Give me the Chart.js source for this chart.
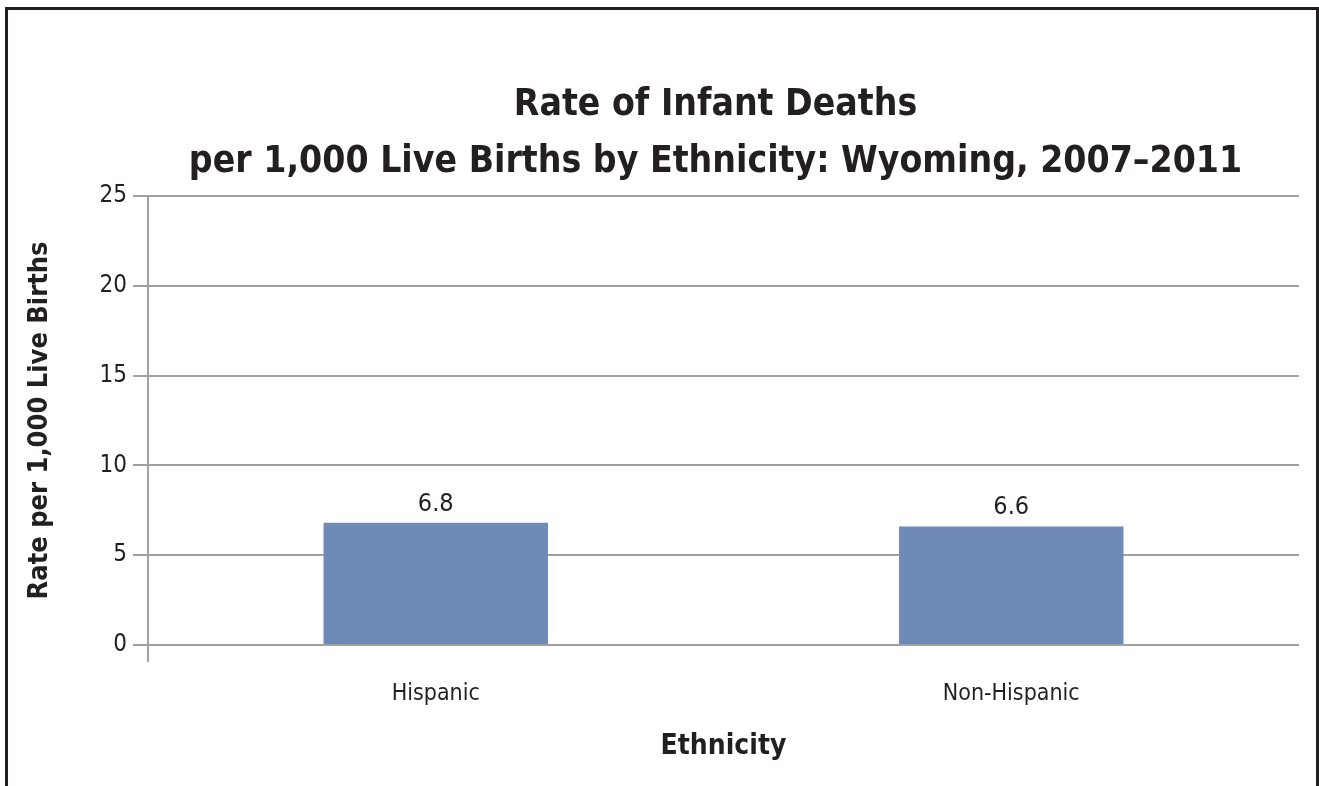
<!DOCTYPE html>
<html>
<head>
<meta charset="utf-8">
<script src="https://cdn.jsdelivr.net/npm/chart.js@4/dist/chart.umd.min.js"></script>
<style>
  html, body { margin: 0; padding: 0; background: #fff; }
  #wrap { width: 1319px; height: 786px; position: relative; }
</style>
</head>
<body>
<div id="wrap"><canvas id="c" width="1319" height="786"></canvas></div>
<script>
const titleLines = ['Rate of Infant Deaths', 'per 1,000 Live Births by Ethnicity: Wyoming, 2007\u20132011'];
const categories = ['Hispanic', 'Non-Hispanic'];
const rates = [6.8, 6.6];
const rateLabels = ['6.8', '6.6'];
const yTicks = [0, 5, 10, 15, 20, 25];
const yAxisTitle = 'Rate per 1,000 Live Births';
const xAxisTitle = 'Ethnicity';

const FONT = "'DejaVu Sans Condensed', 'Liberation Sans Narrow', sans-serif";
const TEXT = '#231f20';
const GRID = '#a0a0a0';
const BAR = '#6f8ab7';

const framePlugin = {
  id: 'frame',
  afterLayout(chart) {
    // centre the title block a little right of the canvas centre, as in the source
    if (chart.titleBlock) {
      chart.titleBlock.left += 62;
      chart.titleBlock.right += 62;
    }
  },
  beforeDraw(chart) {
    const c = chart.ctx;
    c.save();
    c.fillStyle = '#ffffff';
    c.fillRect(0, 0, chart.width, chart.height);
    c.fillStyle = TEXT;
    c.fillRect(5, 7, 3, chart.height);
    c.fillRect(5, 7, chart.width - 5, 3);
    c.fillRect(chart.width - 3, 7, 3, chart.height);
    c.restore();
  }
};

const valueLabelPlugin = {
  id: 'valueLabels',
  afterDatasetsDraw(chart) {
    const c = chart.ctx;
    const meta = chart.getDatasetMeta(0);
    c.save();
    c.font = '25px ' + FONT;
    c.fillStyle = TEXT;
    c.textAlign = 'center';
    c.textBaseline = 'alphabetic';
    meta.data.forEach((bar, i) => {
      c.fillText(rateLabels[i], bar.x, bar.y - 12);
    });
    c.restore();
  }
};

new Chart(document.getElementById('c'), {
  type: 'bar',
  data: {
    labels: categories,
    datasets: [{
      data: rates,
      backgroundColor: BAR,
      borderWidth: 0,
      barPercentage: 0.39,
      categoryPercentage: 1.0
    }]
  },
  options: {
    responsive: false,
    animation: false,
    devicePixelRatio: 1,
    layout: { padding: { left: 8, right: 20, top: 0, bottom: 0 } },
    plugins: {
      legend: { display: false },
      tooltip: { enabled: false },
      title: {
        display: true,
        text: titleLines,
        color: TEXT,
        font: { family: FONT, size: 37, weight: 'bold', lineHeight: 1.54 },
        padding: { top: 77, bottom: 5 }
      }
    },
    scales: {
      x: {
        offset: true,
        afterFit(scale) { scale.height = 141; },
        border: { display: false },
        grid: {
          display: true,
          drawOnChartArea: false,
          drawTicks: true,
          tickLength: 17,
          lineWidth: 2,
          color: (ctx) => ctx.index === 0 ? GRID : 'rgba(0,0,0,0)'
        },
        ticks: {
          color: TEXT,
          font: { family: FONT, size: 23 },
          padding: 18
        },
        title: {
          display: true,
          text: xAxisTitle,
          color: TEXT,
          font: { family: FONT, size: 28, weight: 'bold', lineHeight: 1.2 },
          padding: { top: 0, bottom: 22 }
        }
      },
      y: {
        min: 0,
        max: 25,
        afterFit(scale) { scale.width = 140; },
        afterBuildTicks(scale) { scale.ticks = yTicks.map(v => ({ value: v })); },
        border: { display: true, color: GRID, width: 2 },
        grid: {
          color: GRID,
          lineWidth: 2,
          drawTicks: true,
          tickLength: 15
        },
        ticks: {
          color: TEXT,
          font: { family: FONT, size: 24 },
          padding: 6
        },
        title: {
          display: true,
          text: yAxisTitle,
          color: TEXT,
          font: { family: FONT, size: 27, weight: 'bold', lineHeight: 1.2 },
          padding: { top: 16, bottom: 0 }
        }
      }
    }
  },
  plugins: [framePlugin, valueLabelPlugin]
});
</script>
</body>
</html>
